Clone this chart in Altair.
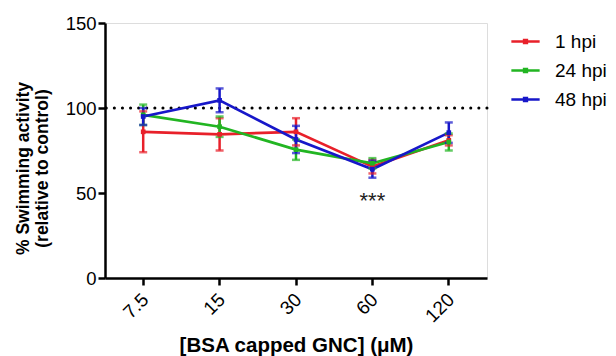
import altair as alt
import pandas as pd

conc = ["7.5", "15", "30", "60", "120"]
series = ["1 hpi", "24 hpi", "48 hpi"]
colors = ["#E8202A", "#22B522", "#1717C9"]

mean_1 = [86, 84.5, 86, 65.5, 81]
err_1 = [12, 9.5, 8, 4, 3]
mean_24 = [96, 89, 75.5, 67.5, 80]
err_24 = [6, 6, 6, 3, 5]
mean_48 = [95, 104.5, 81.5, 64, 85.5]
err_48 = [5, 7, 8, 5, 6]

ref_value = [100]
sig_conc = ["60"]
sig_y = [45.5]
sig_text = ["***"]

rows = []
for s, m, e in [("1 hpi", mean_1, err_1), ("24 hpi", mean_24, err_24), ("48 hpi", mean_48, err_48)]:
    for i, c in enumerate(conc):
        rows.append({"conc": c, "series": s, "mean": m[i], "lo": m[i] - e[i], "hi": m[i] + e[i]})
df = pd.DataFrame(rows)

FONT = "Liberation Sans"
AX = dict(domainColor="#000000", domainWidth=2.5, tickColor="#000000", tickWidth=2.5,
          tickSize=7, labelColor="#000000", titleColor="#000000", labelFont=FONT,
          titleFont=FONT, grid=False, domainOpacity=1, tickOpacity=1)

xenc = alt.X("conc:O", sort=conc, title="[BSA capped GNC] (μM)",
             axis=alt.Axis(labelAngle=-45, labelFontSize=19, titleFontSize=20.5,
                           titleFontWeight="bold", titlePadding=10, labelPadding=5,
                           labelOffset=-4, **AX))
yscale = alt.Scale(domain=[0, 150], nice=False)
color = alt.Color("series:N", scale=alt.Scale(domain=series, range=colors),
                  legend=alt.Legend(title=None, orient="none", legendX=405, legendY=3,
                                    symbolType="M-1,0L1,0M-0.1,-0.1L0.1,-0.1L0.1,0.1L-0.1,0.1Z",
                                    symbolSize=800, symbolStrokeWidth=2.5,
                                    labelFontSize=19, labelFont=FONT, labelColor="black",
                                    labelOffset=14, rowPadding=3))

base = alt.Chart(df)

lines = base.mark_line(strokeWidth=2.7).encode(
    x=xenc,
    y=alt.Y("mean:Q", scale=yscale, title=["% Swimming activity", "(relative to control)"],
            axis=alt.Axis(values=[0, 50, 100, 150], labelFontSize=18.5, titleFontSize=17.5,
                          titleFontWeight="bold", titleLineHeight=19, titlePadding=14,
                          titleY=145, **AX)),
    color=color,
    order=alt.Order("conc_idx:Q"),
).transform_calculate(conc_idx="indexof(['7.5','15','30','60','120'], datum.conc)")

cscale = alt.Scale(domain=series, range=colors)
err = base.mark_rule(strokeWidth=2.5).encode(
    x=alt.X("conc:O", sort=conc), y=alt.Y("lo:Q", scale=yscale), y2="hi:Q",
    color=alt.Color("series:N", scale=cscale, legend=None))

caps_lo = base.mark_tick(size=8, thickness=2.5).encode(
    x=alt.X("conc:O", sort=conc), y=alt.Y("lo:Q", scale=yscale),
    color=alt.Color("series:N", scale=cscale, legend=None))
caps_hi = base.mark_tick(size=8, thickness=2.5).encode(
    x=alt.X("conc:O", sort=conc), y=alt.Y("hi:Q", scale=yscale),
    color=alt.Color("series:N", scale=cscale, legend=None))
pts = base.mark_square(size=22, opacity=1).encode(
    x=alt.X("conc:O", sort=conc), y=alt.Y("mean:Q", scale=yscale),
    color=alt.Color("series:N", scale=cscale, legend=None))

refline = alt.Chart(pd.DataFrame({"v": ref_value})).mark_rule(
    color="black", strokeWidth=3, strokeDash=[0.1, 8], strokeCap="round").encode(
    y=alt.Y("v:Q", scale=yscale))

sig = alt.Chart(pd.DataFrame({"conc": sig_conc, "y": sig_y, "t": sig_text})).mark_text(
    fontSize=22, font=FONT, color="#222222", baseline="middle").encode(
    x=alt.X("conc:O", sort=conc), y=alt.Y("y:Q", scale=yscale), text="t:N")

chart = alt.layer(refline, lines, err, caps_lo, caps_hi, pts, sig).properties(
    width=382, height=255,
    autosize=alt.AutoSizeParams(type="none"),
    padding={"left": 105, "top": 23, "right": 129, "bottom": 78},
).configure_view(stroke=None).configure_axis(**AX).configure(background="white")

chart.save("out.html", embed_options={"renderer": "svg", "actions": False})
